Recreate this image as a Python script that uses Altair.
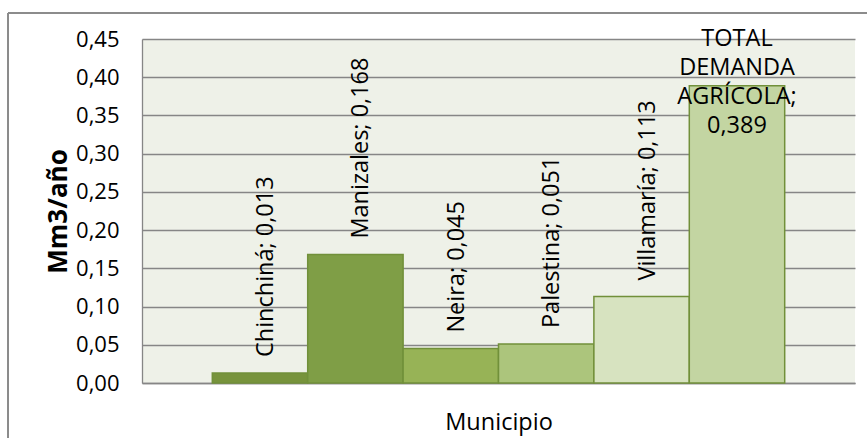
import altair as alt
import pandas as pd

municipios = ["Chinchiná", "Manizales", "Neira", "Palestina", "Villamaría", "TOTAL DEMANDA AGRÍCOLA"]
valores = [0.013, 0.168, 0.045, 0.051, 0.113, 0.389]
colores = ["#77933C", "#7F9E46", "#97B356", "#ACC57C", "#D7E3C0", "#C3D5A2"]
y_ticks = [0.00, 0.05, 0.10, 0.15, 0.20, 0.25, 0.30, 0.35, 0.40, 0.45]

FONT = "Open Sans"

df = pd.DataFrame({"municipio": municipios, "valor": valores})
df["etiqueta"] = [f"{m}; {v:.3f}".replace(".", ",") for m, v in zip(municipios, valores)]
df["total"] = [m.startswith("TOTAL") for m in municipios]

x_enc = alt.X(
    "municipio:N",
    sort=municipios,
    scale=alt.Scale(paddingInner=0, paddingOuter=0.737),
    axis=alt.Axis(
        title="Municipio", labels=False, ticks=False, domainColor="#868686",
        domainWidth=1.3, titleFont=FONT, titleFontSize=23.5, titleFontWeight="normal",
        titleColor="black", titlePadding=27,
    ),
)
y_enc = alt.Y(
    "valor:Q",
    scale=alt.Scale(domain=[0, 0.45], nice=False),
    axis=alt.Axis(
        title="Mm3/año", values=y_ticks, labelExpr="replace(format(datum.value, '.2f'), '.', ',')",
        ticks=False, labelPadding=23, labelFont=FONT, labelFontSize=22, labelColor="black",
        labelOverlap=False, grid=True,
        domainColor="#868686", domainWidth=1.3, gridColor="#868686", gridWidth=1.3,
        titleFont=FONT, titleFontSize=26, titleFontWeight="bold", titleColor="black",
        titlePadding=4,
    ),
)

bars = alt.Chart(df).mark_bar(stroke="#71903A", strokeWidth=1.5).encode(
    x=x_enc,
    y=y_enc,
    color=alt.Color("municipio:N", scale=alt.Scale(domain=municipios, range=colores), legend=None),
)

labels = alt.Chart(df).transform_filter("!datum.total").mark_text(
    angle=270, align="left", baseline="middle", dx=16, dy=6, font=FONT, fontSize=23.5, color="black"
).encode(
    x=x_enc,
    y=y_enc,
    text="etiqueta:N",
)

total_label = alt.Chart(df).transform_filter("datum.total").transform_calculate(
    txt="['TOTAL', 'DEMANDA', 'AGRÍCOLA;', replace(format(datum.valor, '.3f'), '.', ',')]"
).mark_text(
    align="center", baseline="middle", dy=-47, lineHeight=29, font=FONT, fontSize=23.5, color="black"
).encode(
    x=x_enc,
    y=y_enc,
    text="txt:N",
)

border_left = alt.Chart(df).mark_rule(color="#8C8C8C", strokeWidth=1.3).encode(
    x=alt.value(-134), y=alt.value(-26), y2=alt.value(460)
)
border_top = alt.Chart(df).mark_rule(color="#8C8C8C", strokeWidth=1.3).encode(
    x=alt.value(-134), x2=alt.value(760), y=alt.value(-26)
)

chart = alt.layer(bars, labels, total_label, border_left, border_top).properties(
    width=713, height=344,
    autosize=alt.AutoSizeParams(type="none"),
    padding={"left": 142, "top": 39, "right": 12, "bottom": 55},
    background="white",
).configure_view(stroke=None, fill="#EEF1E8")

chart.save("out.html", embed_options={"renderer": "svg", "actions": False})
